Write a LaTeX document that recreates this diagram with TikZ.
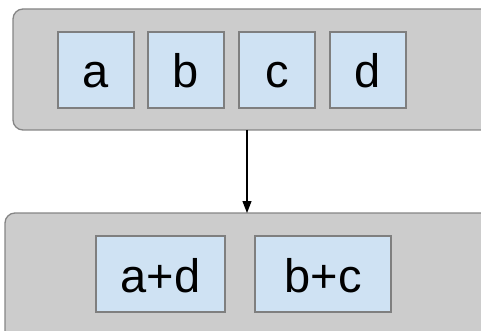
\documentclass[tikz,border=0pt]{standalone}
\usepackage{fontspec}
\setmainfont{Liberation Sans}
\usetikzlibrary{arrows.meta}
\definecolor{contfill}{HTML}{CCCCCC}
\definecolor{contdraw}{HTML}{858585}
\definecolor{boxfill}{HTML}{CFE2F3}
\definecolor{boxdraw}{HTML}{7F7F7F}
\begin{document}
\begin{tikzpicture}[x=1pt,y=-1pt,
  container/.style={draw=contdraw,fill=contfill,line width=1.3pt,rounded corners=10pt},
  cell/.style={draw=boxdraw,fill=boxfill,line width=1.3pt,inner sep=0pt,
    text height=36pt,text depth=0pt,
    font=\fontsize{47}{50}\selectfont},
  conn/.style={line width=1.2pt,-{Triangle[length=12pt,width=9pt]}}]
\useasboundingbox (0,0) rectangle (481,331);
\draw[container] (13,9) rectangle (495,130);
\draw[container] (5,213) rectangle (495,345);
\node[cell,minimum width=76pt,minimum height=76pt] (a) at (96,70) {a};
\node[cell,minimum width=76pt,minimum height=76pt] (b) at (186,70) {b};
\node[cell,minimum width=76pt,minimum height=76pt] (c) at (277,70) {c};
\node[cell,minimum width=76pt,minimum height=76pt] (d) at (368,70) {d};
\node[cell,minimum width=129pt,minimum height=76pt] (ad) at (160.5,274) {a+d};
\node[cell,minimum width=136pt,minimum height=76pt] (bc) at (323,274) {b+c};
\coordinate (top) at (247,130);
\coordinate (bot) at (247,213);
\draw[conn] (top) -- (bot);
\end{tikzpicture}
\end{document}
